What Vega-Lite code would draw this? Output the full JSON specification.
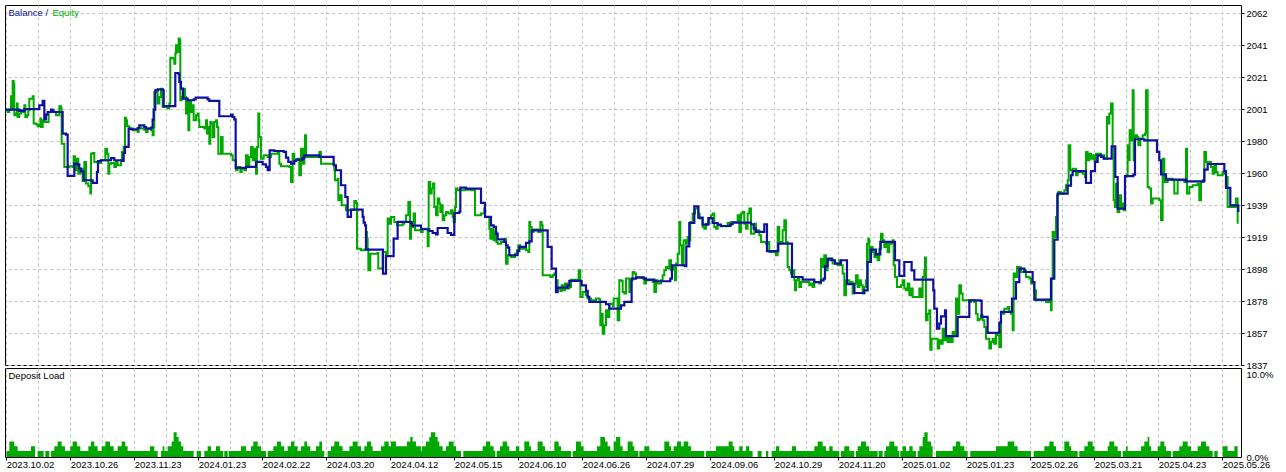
{
"$schema":"https://vega.github.io/schema/vega-lite/v6.json",
"padding":{"top":4,"left":4,"right":0,"bottom":0},
"background":"white",
"spacing":3,
"bounds":"flush",
"config":{
 "view":{"stroke":"#000","strokeWidth":1},
 "font":"Liberation Sans",
 "axis":{"labelFont":"Liberation Sans","labelFontSize":9.5,"labelColor":"#000","gridColor":"#c4c4c4","gridDash":[3,3],"gridWidth":1,"tickColor":"#000","domain":false,"title":null,"labelOverlap":false,"labelBound":false,"labelFlush":false,"labelSeparation":0}
},
"resolve":{"scale":{"x":"independent","y":"independent","color":"independent"},"legend":{"color":"independent"}},
"datasets":{
"bal":[{"u":-0.2,"v":2000.1},{"u":4.07,"v":1999.3},{"u":5.63,"v":2000.5},{"u":10.32,"v":2002.9},{"u":11.37,"v":2005.7},{"u":11.89,"v":1993.9},{"u":12.41,"v":1996.9},{"u":12.93,"v":1998.6},{"u":13.97,"v":2000.1},{"u":14.49,"v":1998.6},{"u":17.61,"v":1984.8},{"u":18.66,"v":1984.2},{"u":19.18,"v":1957.8},{"u":21.26,"v":1965.6},{"u":22.09,"v":1965.2},{"u":22.82,"v":1962.4},{"u":23.34,"v":1960.7},{"u":24.18,"v":1955.0},{"u":26.99,"v":1953.3},{"u":28.34,"v":1960.3},{"u":28.66,"v":1967.3},{"u":29.59,"v":1967.8},{"u":32.72,"v":1969.2},{"u":33.76,"v":1967.8},{"u":36.37,"v":1967.3},{"u":36.68,"v":1972.4},{"u":37.09,"v":1976.3},{"u":38.24,"v":1988.0},{"u":38.97,"v":1987.6},{"u":41.05,"v":1988.4},{"u":41.57,"v":1990.1},{"u":43.13,"v":1989.0},{"u":43.66,"v":1988.0},{"u":45.22,"v":1988.6},{"u":45.74,"v":1993.7},{"u":46.05,"v":2000.1},{"u":46.57,"v":2012.5},{"u":47.3,"v":2013.1},{"u":48.86,"v":2012.5},{"u":49.18,"v":2002.3},{"u":52.82,"v":2023.5},{"u":53.86,"v":2022.7},{"u":54.07,"v":2017.8},{"u":54.59,"v":2013.5},{"u":55.22,"v":2007.1},{"u":56.68,"v":2006.1},{"u":58.55,"v":2006.7},{"u":59.18,"v":2007.8},{"u":62.93,"v":2006.7},{"u":63.45,"v":2005.7},{"u":66.57,"v":1995.9},{"u":70.22,"v":1996.9},{"u":70.74,"v":1995.4},{"u":71.26,"v":1993.9},{"u":71.68,"v":1962.9},{"u":74.91,"v":1963.5},{"u":78.03,"v":1966.7},{"u":80.11,"v":1965.2},{"u":81.16,"v":1963.5},{"u":81.68,"v":1961.4},{"u":82.3,"v":1974.1},{"u":83.76,"v":1973.7},{"u":86.68,"v":1973.1},{"u":87.41,"v":1969.5},{"u":88.13,"v":1966.7},{"u":88.97,"v":1965.6},{"u":90.01,"v":1967.3},{"u":90.53,"v":1968.2},{"u":92.61,"v":1969.2},{"u":93.13,"v":1970.9},{"u":97.82,"v":1969.9},{"u":102.3,"v":1964.6},{"u":103.03,"v":1961.4},{"u":104.6,"v":1951.8},{"u":105.95,"v":1944.3},{"u":106.68,"v":1931.6},{"u":107.72,"v":1936.2},{"u":111.37,"v":1931.6},{"u":111.68,"v":1927.9},{"u":112.1,"v":1926.2},{"u":112.41,"v":1910.7},{"u":117.72,"v":1895.4},{"u":118.66,"v":1906.6},{"u":121.05,"v":1917.7},{"u":122.3,"v":1928.4},{"u":126.47,"v":1927.7},{"u":126.78,"v":1926.0},{"u":129.6,"v":1923.7},{"u":132.2,"v":1922.6},{"u":133.24,"v":1921.3},{"u":134.28,"v":1920.5},{"u":134.8,"v":1924.5},{"u":137.93,"v":1921.3},{"u":138.97,"v":1920.1},{"u":140.01,"v":1934.1},{"u":141.57,"v":1935.0},{"u":141.89,"v":1950.3},{"u":143.66,"v":1949.7},{"u":148.35,"v":1940.5},{"u":149.6,"v":1931.6},{"u":151.47,"v":1926.2},{"u":152.3,"v":1925.2},{"u":153.03,"v":1920.9},{"u":153.55,"v":1917.3},{"u":155.64,"v":1915.6},{"u":156.16,"v":1913.5},{"u":156.68,"v":1912.0},{"u":157.2,"v":1907.1},{"u":159.8,"v":1909.8},{"u":160.32,"v":1912.4},{"u":162.41,"v":1915.0},{"u":163.45,"v":1916.0},{"u":164.18,"v":1923.0},{"u":169.18,"v":1912.4},{"u":170.43,"v":1898.6},{"u":171.78,"v":1883.6},{"u":172.3,"v":1886.4},{"u":175.43,"v":1887.9},{"u":175.95,"v":1890.7},{"u":179.8,"v":1887.9},{"u":181.16,"v":1884.3},{"u":181.68,"v":1880.5},{"u":182.2,"v":1877.3},{"u":187.41,"v":1875.8},{"u":188.45,"v":1873.0},{"u":192.1,"v":1875.1},{"u":193.14,"v":1877.3},{"u":195.42,"v":1892.2},{"u":196.78,"v":1892.8},{"u":199.38,"v":1892.2},{"u":199.9,"v":1891.5},{"u":202.51,"v":1890.5},{"u":207.51,"v":1892.2},{"u":208.03,"v":1900.7},{"u":212.09,"v":1900.1},{"u":212.51,"v":1912.8},{"u":213.44,"v":1927.7},{"u":215.01,"v":1938.4},{"u":216.26,"v":1931.1},{"u":217.61,"v":1926.7},{"u":219.38,"v":1930.9},{"u":220.74,"v":1927.7},{"u":222.3,"v":1926.7},{"u":223.34,"v":1925.8},{"u":226.26,"v":1926.9},{"u":226.99,"v":1927.9},{"u":232.72,"v":1926.9},{"u":233.55,"v":1924.1},{"u":234.28,"v":1922.0},{"u":236.88,"v":1926.9},{"u":237.72,"v":1909.8},{"u":241.26,"v":1914.5},{"u":245.53,"v":1893.2},{"u":248.86,"v":1891.5},{"u":252.51,"v":1890.0},{"u":254.59,"v":1891.1},{"u":255.42,"v":1892.2},{"u":255.84,"v":1900.1},{"u":256.67,"v":1904.9},{"u":257.92,"v":1903.9},{"u":258.97,"v":1901.8},{"u":260.84,"v":1903.9},{"u":262.72,"v":1888.6},{"u":265.01,"v":1883.0},{"u":268.13,"v":1884.7},{"u":269.17,"v":1902.8},{"u":270.22,"v":1910.7},{"u":271.78,"v":1907.7},{"u":273.13,"v":1915.6},{"u":277.72,"v":1903.9},{"u":279.07,"v":1893.9},{"u":280.63,"v":1902.8},{"u":282.92,"v":1897.5},{"u":283.76,"v":1891.5},{"u":289.69,"v":1884.7},{"u":290.01,"v":1873.0},{"u":290.84,"v":1860.2},{"u":291.57,"v":1863.4},{"u":292.1,"v":1868.1},{"u":293.35,"v":1871.9},{"u":293.66,"v":1855.5},{"u":297.3,"v":1867.7},{"u":300.95,"v":1878.3},{"u":304.39,"v":1877.9},{"u":304.8,"v":1867.7},{"u":306.68,"v":1857.5},{"u":310.32,"v":1864.1},{"u":310.85,"v":1870.9},{"u":314.28,"v":1879.4},{"u":315.53,"v":1890.0},{"u":316.57,"v":1898.6},{"u":318.14,"v":1896.4},{"u":320.74,"v":1890.0},{"u":321.26,"v":1878.8},{"u":326.47,"v":1892.2},{"u":327.51,"v":1917.1},{"u":328.55,"v":1946.5},{"u":331.68,"v":1951.6},{"u":332.72,"v":1958.2},{"u":333.24,"v":1960.9},{"u":337.41,"v":1953.3},{"u":338.97,"v":1960.9},{"u":340.22,"v":1966.7},{"u":341.05,"v":1970.9},{"u":342.1,"v":1969.9},{"u":342.93,"v":1968.8},{"u":345.43,"v":1976.7},{"u":346.57,"v":1957.1},{"u":347.3,"v":1936.9},{"u":349.6,"v":1957.7},{"u":352.2,"v":1958.6},{"u":352.72,"v":1981.2},{"u":355.64,"v":1980.5},{"u":359.6,"v":1973.1},{"u":360.32,"v":1967.8},{"u":360.85,"v":1958.8},{"u":362.41,"v":1955.4},{"u":368.66,"v":1954.3},{"u":374.39,"v":1961.8},{"u":375.43,"v":1965.4},{"u":380.64,"v":1960.9},{"u":381.16,"v":1950.1},{"u":382.51,"v":1939.0},{"u":385.01,"v":1934.8}],
"eq":[{"u":-0.2,"v":1999.7},{"u":0.43,"v":1998.6},{"u":0.95,"v":2000.1},{"u":1.47,"v":2008.6},{"u":1.68,"v":2000.8},{"u":1.99,"v":2018.4},{"u":2.3,"v":2016.7},{"u":2.51,"v":1996.5},{"u":3.03,"v":1997.6},{"u":3.34,"v":2004.0},{"u":3.55,"v":1995.4},{"u":4.07,"v":1997.6},{"u":4.59,"v":1999.7},{"u":5.11,"v":1998.6},{"u":5.64,"v":2002.9},{"u":5.95,"v":1995.4},{"u":6.47,"v":1996.5},{"u":6.89,"v":1999.7},{"u":7.2,"v":2007.1},{"u":8.24,"v":2008.6},{"u":8.55,"v":1991.2},{"u":9.28,"v":1990.8},{"u":9.8,"v":1989.5},{"u":10.32,"v":1990.1},{"u":10.64,"v":1994.4},{"u":10.84,"v":1989.0},{"u":11.37,"v":1993.3},{"u":11.89,"v":1992.2},{"u":13.24,"v":1998.6},{"u":13.97,"v":1999.7},{"u":15.01,"v":1998.6},{"u":15.53,"v":1996.5},{"u":16.57,"v":2002.3},{"u":17.09,"v":2000.8},{"u":17.3,"v":1978.4},{"u":18.14,"v":1963.5},{"u":19.7,"v":1963.9},{"u":20.74,"v":1963.5},{"u":21.05,"v":1970.3},{"u":21.47,"v":1961.4},{"u":22.09,"v":1968.8},{"u":22.51,"v":1959.2},{"u":23.14,"v":1962.4},{"u":23.86,"v":1954.6},{"u":24.39,"v":1966.7},{"u":24.91,"v":1952.9},{"u":25.64,"v":1951.2},{"u":26.26,"v":1946.5},{"u":26.47,"v":1972.0},{"u":26.99,"v":1972.4},{"u":27.51,"v":1966.7},{"u":28.55,"v":1966.1},{"u":29.59,"v":1967.8},{"u":30.95,"v":1975.2},{"u":31.47,"v":1972.0},{"u":31.89,"v":1959.2},{"u":32.2,"v":1965.6},{"u":32.72,"v":1966.1},{"u":33.76,"v":1963.5},{"u":34.28,"v":1966.7},{"u":34.8,"v":1964.6},{"u":35.84,"v":1967.8},{"u":36.16,"v":1973.1},{"u":36.68,"v":1976.3},{"u":37.09,"v":1995.0},{"u":37.41,"v":1993.3},{"u":37.72,"v":1989.5},{"u":38.45,"v":1988.0},{"u":39.49,"v":1986.9},{"u":41.05,"v":1985.9},{"u":41.37,"v":1988.6},{"u":42.09,"v":1988.0},{"u":43.13,"v":1987.3},{"u":43.66,"v":1985.9},{"u":44.18,"v":1988.0},{"u":45.22,"v":1986.9},{"u":45.74,"v":1983.7},{"u":46.05,"v":1989.0},{"u":46.26,"v":2011.4},{"u":46.78,"v":2012.5},{"u":47.3,"v":2004.0},{"u":47.82,"v":2008.2},{"u":48.34,"v":2013.5},{"u":48.86,"v":2001.8},{"u":50.43,"v":2000.8},{"u":50.95,"v":2004.0},{"u":51.26,"v":2033.3},{"u":51.99,"v":2032.7},{"u":52.51,"v":2029.5},{"u":52.82,"v":2035.9},{"u":53.03,"v":2041.2},{"u":53.55,"v":2037.0},{"u":53.86,"v":2045.5},{"u":54.18,"v":2044.4},{"u":54.39,"v":2006.1},{"u":54.8,"v":2008.2},{"u":55.43,"v":2013.5},{"u":55.84,"v":2008.2},{"u":56.16,"v":1997.6},{"u":56.47,"v":2006.1},{"u":56.89,"v":1986.9},{"u":57.2,"v":2005.0},{"u":57.72,"v":1998.6},{"u":58.24,"v":2002.9},{"u":58.55,"v":1993.3},{"u":59.28,"v":1996.5},{"u":59.8,"v":1997.6},{"u":60.11,"v":1993.3},{"u":60.32,"v":1989.0},{"u":61.89,"v":1988.0},{"u":62.41,"v":1993.3},{"u":62.72,"v":1984.8},{"u":62.93,"v":1989.0},{"u":63.45,"v":1978.4},{"u":63.76,"v":1992.2},{"u":64.18,"v":1991.2},{"u":64.49,"v":1982.7},{"u":65.01,"v":1992.2},{"u":65.53,"v":1993.3},{"u":65.84,"v":1989.0},{"u":66.26,"v":1972.0},{"u":67.09,"v":1982.7},{"u":67.61,"v":1972.0},{"u":70.22,"v":1970.9},{"u":70.74,"v":1967.8},{"u":71.78,"v":1961.4},{"u":72.3,"v":1963.5},{"u":73.14,"v":1960.3},{"u":73.55,"v":1962.4},{"u":74.39,"v":1961.4},{"u":74.91,"v":1970.9},{"u":75.43,"v":1963.5},{"u":75.95,"v":1969.9},{"u":76.47,"v":1976.3},{"u":76.99,"v":1967.8},{"u":77.51,"v":1975.2},{"u":78.03,"v":1959.2},{"u":78.34,"v":1976.3},{"u":78.76,"v":1997.6},{"u":79.07,"v":1982.7},{"u":79.59,"v":1968.8},{"u":80.43,"v":1970.9},{"u":81.68,"v":1969.9},{"u":82.72,"v":1972.0},{"u":84.8,"v":1973.1},{"u":85.32,"v":1965.6},{"u":85.84,"v":1963.9},{"u":88.45,"v":1963.5},{"u":88.97,"v":1953.9},{"u":89.49,"v":1972.0},{"u":90.01,"v":1967.8},{"u":91.05,"v":1968.8},{"u":91.57,"v":1958.2},{"u":92.09,"v":1975.2},{"u":92.61,"v":1965.6},{"u":93.14,"v":1975.2},{"u":93.34,"v":1983.7},{"u":93.66,"v":1969.9},{"u":97.3,"v":1969.9},{"u":97.82,"v":1973.1},{"u":98.34,"v":1965.6},{"u":102.51,"v":1961.4},{"u":102.72,"v":1955.0},{"u":103.55,"v":1956.0},{"u":103.76,"v":1942.2},{"u":104.39,"v":1945.4},{"u":104.8,"v":1939.0},{"u":106.16,"v":1935.8},{"u":107.51,"v":1936.2},{"u":108.76,"v":1941.8},{"u":109.28,"v":1940.5},{"u":109.6,"v":1911.3},{"u":110.85,"v":1910.3},{"u":111.89,"v":1910.7},{"u":112.41,"v":1922.0},{"u":112.72,"v":1917.7},{"u":112.93,"v":1911.3},{"u":113.14,"v":1897.5},{"u":113.76,"v":1908.1},{"u":116.05,"v":1908.6},{"u":116.26,"v":1898.6},{"u":117.3,"v":1898.6},{"u":117.62,"v":1909.2},{"u":118.66,"v":1907.1},{"u":119.18,"v":1930.5},{"u":119.7,"v":1927.3},{"u":120.22,"v":1931.6},{"u":121.26,"v":1928.4},{"u":122.1,"v":1926.2},{"u":123.87,"v":1927.3},{"u":124.39,"v":1928.4},{"u":124.91,"v":1932.6},{"u":125.64,"v":1941.1},{"u":126.16,"v":1917.7},{"u":126.47,"v":1928.4},{"u":126.99,"v":1925.2},{"u":127.3,"v":1933.7},{"u":127.72,"v":1923.0},{"u":129.6,"v":1922.0},{"u":130.12,"v":1924.1},{"u":131.16,"v":1924.1},{"u":131.68,"v":1912.8},{"u":131.99,"v":1953.9},{"u":132.51,"v":1946.5},{"u":132.93,"v":1949.7},{"u":133.35,"v":1952.9},{"u":133.76,"v":1937.9},{"u":134.28,"v":1932.6},{"u":134.8,"v":1943.3},{"u":135.32,"v":1940.1},{"u":135.64,"v":1934.8},{"u":136.05,"v":1939.0},{"u":136.37,"v":1929.4},{"u":136.89,"v":1932.6},{"u":137.41,"v":1934.8},{"u":138.14,"v":1933.7},{"u":138.97,"v":1935.8},{"u":139.49,"v":1931.6},{"u":139.8,"v":1928.4},{"u":140.22,"v":1937.9},{"u":140.53,"v":1949.7},{"u":141.05,"v":1948.6},{"u":143.14,"v":1949.0},{"u":145.22,"v":1948.6},{"u":146.26,"v":1949.0},{"u":146.47,"v":1932.6},{"u":148.35,"v":1933.7},{"u":149.39,"v":1936.9},{"u":149.6,"v":1931.6},{"u":150.95,"v":1924.1},{"u":151.26,"v":1917.7},{"u":151.68,"v":1924.1},{"u":152.3,"v":1916.7},{"u":152.72,"v":1922.0},{"u":153.14,"v":1915.6},{"u":153.55,"v":1914.5},{"u":154.6,"v":1915.6},{"u":155.84,"v":1917.7},{"u":156.16,"v":1901.7},{"u":156.68,"v":1907.1},{"u":157.72,"v":1906.0},{"u":158.97,"v":1908.1},{"u":159.59,"v":1910.3},{"u":160.01,"v":1913.5},{"u":160.64,"v":1911.3},{"u":161.89,"v":1912.4},{"u":162.41,"v":1910.3},{"u":163.14,"v":1909.2},{"u":163.45,"v":1928.4},{"u":163.76,"v":1925.2},{"u":164.18,"v":1922.0},{"u":164.8,"v":1923.5},{"u":166.26,"v":1922.0},{"u":166.89,"v":1928.4},{"u":167.3,"v":1926.2},{"u":167.62,"v":1894.3},{"u":170.01,"v":1893.2},{"u":170.74,"v":1894.3},{"u":171.26,"v":1895.4},{"u":171.78,"v":1891.1},{"u":172.3,"v":1885.8},{"u":173.14,"v":1884.3},{"u":173.55,"v":1887.9},{"u":174.18,"v":1884.7},{"u":174.6,"v":1889.0},{"u":175.22,"v":1885.8},{"u":175.95,"v":1886.8},{"u":176.47,"v":1891.5},{"u":178.55,"v":1890.7},{"u":178.86,"v":1897.5},{"u":179.39,"v":1880.5},{"u":180.12,"v":1883.7},{"u":181.16,"v":1881.5},{"u":181.68,"v":1879.4},{"u":182.72,"v":1878.3},{"u":184.28,"v":1879.4},{"u":185.32,"v":1878.8},{"u":185.64,"v":1862.4},{"u":186.05,"v":1869.8},{"u":186.37,"v":1857.0},{"u":186.89,"v":1862.4},{"u":187.41,"v":1871.9},{"u":187.93,"v":1867.7},{"u":188.45,"v":1876.2},{"u":189.49,"v":1874.5},{"u":189.8,"v":1879.4},{"u":191.05,"v":1865.6},{"u":191.57,"v":1891.1},{"u":192.3,"v":1890.7},{"u":192.62,"v":1883.7},{"u":193.14,"v":1882.6},{"u":193.66,"v":1892.2},{"u":194.7,"v":1883.7},{"u":195.22,"v":1891.1},{"u":195.74,"v":1896.4},{"u":196.26,"v":1895.4},{"u":196.78,"v":1893.2},{"u":198.86,"v":1892.2},{"u":199.38,"v":1889.0},{"u":199.9,"v":1891.1},{"u":201.99,"v":1890.0},{"u":202.51,"v":1883.7},{"u":203.03,"v":1891.1},{"u":203.55,"v":1889.0},{"u":204.59,"v":1891.1},{"u":205.11,"v":1894.3},{"u":205.63,"v":1897.5},{"u":206.15,"v":1899.6},{"u":206.67,"v":1898.6},{"u":207.19,"v":1903.9},{"u":207.72,"v":1897.5},{"u":208.24,"v":1899.6},{"u":208.76,"v":1898.6},{"u":208.97,"v":1891.1},{"u":209.28,"v":1901.8},{"u":209.8,"v":1908.1},{"u":210.32,"v":1928.4},{"u":210.63,"v":1913.5},{"u":211.15,"v":1900.7},{"u":211.67,"v":1916.7},{"u":212.4,"v":1914.5},{"u":212.92,"v":1918.8},{"u":213.44,"v":1916.7},{"u":213.76,"v":1928.4},{"u":214.49,"v":1933.7},{"u":215.22,"v":1936.9},{"u":215.84,"v":1938.0},{"u":216.26,"v":1933.7},{"u":216.67,"v":1930.5},{"u":217.61,"v":1925.2},{"u":218.13,"v":1924.1},{"u":218.65,"v":1927.3},{"u":219.69,"v":1930.5},{"u":220.22,"v":1932.6},{"u":220.74,"v":1933.7},{"u":221.26,"v":1925.2},{"u":221.78,"v":1924.1},{"u":222.3,"v":1926.2},{"u":223.34,"v":1925.6},{"u":225.42,"v":1927.7},{"u":225.94,"v":1926.2},{"u":226.47,"v":1928.4},{"u":228.55,"v":1932.6},{"u":229.07,"v":1922.0},{"u":229.59,"v":1933.7},{"u":230.11,"v":1934.8},{"u":230.63,"v":1927.3},{"u":231.15,"v":1924.1},{"u":231.67,"v":1933.7},{"u":232.2,"v":1936.9},{"u":232.72,"v":1920.9},{"u":233.76,"v":1927.3},{"u":234.28,"v":1923.0},{"u":235.32,"v":1919.9},{"u":235.84,"v":1915.6},{"u":237.4,"v":1914.5},{"u":237.92,"v":1915.6},{"u":238.44,"v":1909.2},{"u":240.53,"v":1907.1},{"u":241.05,"v":1925.2},{"u":241.57,"v":1915.6},{"u":242.61,"v":1923.0},{"u":243.13,"v":1929.4},{"u":243.65,"v":1915.6},{"u":244.17,"v":1899.6},{"u":244.69,"v":1897.5},{"u":245.22,"v":1895.4},{"u":245.74,"v":1897.5},{"u":246.26,"v":1891.1},{"u":246.47,"v":1884.7},{"u":246.78,"v":1891.1},{"u":247.3,"v":1893.2},{"u":247.82,"v":1886.9},{"u":248.34,"v":1890.0},{"u":250.94,"v":1887.9},{"u":251.47,"v":1889.0},{"u":251.99,"v":1886.9},{"u":252.51,"v":1890.0},{"u":254.07,"v":1889.0},{"u":254.59,"v":1904.9},{"u":255.11,"v":1899.6},{"u":255.63,"v":1907.1},{"u":256.15,"v":1897.5},{"u":256.67,"v":1903.9},{"u":257.72,"v":1904.9},{"u":258.24,"v":1901.8},{"u":259.8,"v":1900.7},{"u":260.32,"v":1903.9},{"u":260.84,"v":1900.7},{"u":261.36,"v":1895.4},{"u":261.88,"v":1881.5},{"u":262.4,"v":1891.1},{"u":263.44,"v":1889.0},{"u":263.97,"v":1890.0},{"u":264.49,"v":1882.6},{"u":265.01,"v":1889.0},{"u":265.53,"v":1894.3},{"u":266.05,"v":1886.9},{"u":266.57,"v":1891.1},{"u":267.09,"v":1887.9},{"u":267.61,"v":1882.6},{"u":268.13,"v":1886.9},{"u":268.65,"v":1891.1},{"u":268.97,"v":1914.5},{"u":269.38,"v":1917.7},{"u":269.69,"v":1903.9},{"u":270.22,"v":1912.4},{"u":270.74,"v":1909.2},{"u":271.26,"v":1906.0},{"u":271.78,"v":1908.1},{"u":272.3,"v":1903.9},{"u":272.82,"v":1911.3},{"u":273.34,"v":1920.9},{"u":273.86,"v":1916.7},{"u":274.38,"v":1912.4},{"u":274.9,"v":1915.6},{"u":275.42,"v":1909.2},{"u":275.94,"v":1915.6},{"u":276.47,"v":1914.5},{"u":276.99,"v":1916.7},{"u":277.3,"v":1900.7},{"u":277.72,"v":1893.2},{"u":278.34,"v":1886.9},{"u":279.59,"v":1887.9},{"u":280.11,"v":1891.1},{"u":280.63,"v":1885.8},{"u":281.15,"v":1884.7},{"u":281.67,"v":1889.0},{"u":282.2,"v":1881.5},{"u":282.72,"v":1885.8},{"u":283.24,"v":1880.5},{"u":285.32,"v":1885.8},{"u":285.84,"v":1880.5},{"u":286.36,"v":1893.2},{"u":286.88,"v":1897.5},{"u":287.09,"v":1905.6},{"u":287.4,"v":1865.6},{"u":287.92,"v":1869.8},{"u":288.44,"v":1871.9},{"u":288.76,"v":1846.8},{"u":289.17,"v":1853.8},{"u":290.53,"v":1853.8},{"u":291.05,"v":1847.5},{"u":291.57,"v":1852.8},{"u":292.1,"v":1850.6},{"u":292.62,"v":1860.2},{"u":293.14,"v":1852.8},{"u":293.66,"v":1854.9},{"u":294.18,"v":1851.7},{"u":294.7,"v":1854.9},{"u":295.22,"v":1851.7},{"u":295.74,"v":1858.1},{"u":296.26,"v":1856.0},{"u":296.78,"v":1879.4},{"u":297.3,"v":1869.8},{"u":297.82,"v":1887.9},{"u":298.34,"v":1882.6},{"u":298.87,"v":1878.3},{"u":300.95,"v":1877.3},{"u":301.47,"v":1878.3},{"u":302.51,"v":1877.3},{"u":303.03,"v":1869.8},{"u":303.55,"v":1865.6},{"u":304.07,"v":1866.6},{"u":304.6,"v":1868.7},{"u":305.12,"v":1865.6},{"u":305.64,"v":1861.3},{"u":306.16,"v":1853.8},{"u":307.2,"v":1847.5},{"u":307.72,"v":1851.7},{"u":308.24,"v":1853.8},{"u":308.76,"v":1850.6},{"u":309.28,"v":1857.0},{"u":309.8,"v":1856.0},{"u":310.32,"v":1848.5},{"u":310.85,"v":1870.9},{"u":311.37,"v":1869.8},{"u":311.89,"v":1873.0},{"u":312.93,"v":1874.1},{"u":313.45,"v":1870.9},{"u":313.97,"v":1869.8},{"u":314.49,"v":1859.2},{"u":314.8,"v":1895.4},{"u":315.22,"v":1893.2},{"u":315.85,"v":1899.6},{"u":316.57,"v":1899.2},{"u":317.1,"v":1896.4},{"u":318.14,"v":1897.5},{"u":318.66,"v":1893.2},{"u":319.7,"v":1892.2},{"u":320.22,"v":1889.0},{"u":320.74,"v":1890.0},{"u":321.26,"v":1884.7},{"u":321.78,"v":1878.3},{"u":324.91,"v":1877.3},{"u":325.95,"v":1878.3},{"u":326.47,"v":1871.9},{"u":326.68,"v":1892.2},{"u":326.99,"v":1922.0},{"u":327.51,"v":1918.8},{"u":328.03,"v":1931.6},{"u":328.35,"v":1945.4},{"u":328.76,"v":1947.5},{"u":329.6,"v":1946.5},{"u":330.64,"v":1948.6},{"u":331.16,"v":1951.8},{"u":331.68,"v":1955.0},{"u":331.99,"v":1977.3},{"u":332.51,"v":1961.4},{"u":333.24,"v":1962.4},{"u":334.28,"v":1958.2},{"u":334.8,"v":1960.3},{"u":336.37,"v":1959.2},{"u":337.1,"v":1957.1},{"u":337.41,"v":1973.1},{"u":337.93,"v":1967.8},{"u":338.45,"v":1972.0},{"u":338.97,"v":1968.8},{"u":339.49,"v":1970.9},{"u":340.01,"v":1967.8},{"u":340.53,"v":1972.0},{"u":342.1,"v":1970.9},{"u":343.14,"v":1968.8},{"u":343.97,"v":1995.4},{"u":344.39,"v":1991.2},{"u":344.7,"v":1997.6},{"u":345.22,"v":2004.0},{"u":345.74,"v":1976.3},{"u":346.05,"v":1942.2},{"u":346.47,"v":1937.9},{"u":346.78,"v":1952.8},{"u":347.3,"v":1934.8},{"u":347.82,"v":1945.4},{"u":348.35,"v":1937.9},{"u":348.87,"v":1940.1},{"u":349.18,"v":1935.8},{"u":349.6,"v":1957.1},{"u":350.01,"v":1958.2},{"u":350.43,"v":1977.3},{"u":350.74,"v":1967.8},{"u":351.05,"v":1986.9},{"u":351.47,"v":1980.5},{"u":351.99,"v":2012.5},{"u":352.3,"v":1967.8},{"u":352.72,"v":1983.7},{"u":353.35,"v":1982.7},{"u":353.76,"v":1977.3},{"u":354.39,"v":1981.6},{"u":355.12,"v":1983.7},{"u":355.85,"v":1984.8},{"u":356.16,"v":2012.5},{"u":356.68,"v":1950.7},{"u":357.2,"v":1949.7},{"u":357.72,"v":1940.1},{"u":358.24,"v":1943.3},{"u":360.32,"v":1942.2},{"u":360.85,"v":1929.4},{"u":361.37,"v":1968.8},{"u":361.89,"v":1953.9},{"u":362.93,"v":1956.0},{"u":364.49,"v":1955.0},{"u":365.01,"v":1946.5},{"u":366.05,"v":1955.0},{"u":368.14,"v":1953.9},{"u":368.66,"v":1975.2},{"u":368.97,"v":1946.5},{"u":369.7,"v":1950.7},{"u":370.74,"v":1951.8},{"u":372.3,"v":1952.8},{"u":372.82,"v":1942.2},{"u":373.35,"v":1953.9},{"u":373.87,"v":1955.0},{"u":374.39,"v":1973.1},{"u":374.91,"v":1966.7},{"u":376.47,"v":1963.5},{"u":376.99,"v":1959.2},{"u":377.51,"v":1964.6},{"u":378.03,"v":1960.3},{"u":378.55,"v":1958.2},{"u":380.12,"v":1960.3},{"u":380.64,"v":1959.2},{"u":381.16,"v":1957.1},{"u":381.68,"v":1937.9},{"u":383.24,"v":1939.0},{"u":383.76,"v":1937.9},{"u":384.28,"v":1943.3},{"u":384.8,"v":1927.3}],
"dl":[{"u":0.07,"d":0.74},{"u":0.95,"d":1.87},{"u":2.51,"d":1.3},{"u":3.55,"d":0.74},{"u":7.72,"d":1.3},{"u":8.97,"d":0},{"u":9.8,"d":0.74},{"u":11.68,"d":0},{"u":12.2,"d":0.74},{"u":13.45,"d":0},{"u":13.97,"d":0.74},{"u":15.01,"d":1.3},{"u":16.05,"d":1.87},{"u":17.3,"d":1.3},{"u":18.34,"d":0.74},{"u":20.01,"d":1.3},{"u":20.74,"d":1.87},{"u":22.09,"d":1.3},{"u":23.14,"d":0.74},{"u":25.64,"d":1.3},{"u":26.47,"d":1.87},{"u":27.51,"d":1.3},{"u":28.55,"d":0.74},{"u":29.8,"d":1.3},{"u":30.95,"d":1.87},{"u":32.41,"d":1.3},{"u":33.55,"d":0.74},{"u":34.8,"d":1.3},{"u":36.05,"d":1.87},{"u":37.2,"d":1.3},{"u":37.93,"d":0.74},{"u":44.91,"d":1.3},{"u":46.26,"d":0.74},{"u":47.3,"d":0},{"u":48.34,"d":0.74},{"u":48.86,"d":1.3},{"u":49.39,"d":0.74},{"u":50.43,"d":1.3},{"u":51.68,"d":1.87},{"u":52.3,"d":3.0},{"u":53.24,"d":2.43},{"u":53.86,"d":1.87},{"u":54.59,"d":1.3},{"u":55.32,"d":0.74},{"u":58.55,"d":0},{"u":59.49,"d":0.74},{"u":60.84,"d":0},{"u":61.89,"d":0.74},{"u":62.93,"d":1.3},{"u":63.97,"d":0.74},{"u":65.53,"d":1.3},{"u":66.78,"d":0.74},{"u":67.82,"d":0},{"u":68.14,"d":0.74},{"u":69.18,"d":0},{"u":69.49,"d":0.74},{"u":73.34,"d":1.3},{"u":74.91,"d":0.74},{"u":76.47,"d":1.3},{"u":77.2,"d":1.87},{"u":78.55,"d":1.3},{"u":79.59,"d":0.74},{"u":81.16,"d":0},{"u":81.68,"d":0.74},{"u":83.45,"d":1.3},{"u":84.59,"d":1.87},{"u":85.84,"d":1.3},{"u":86.88,"d":0.74},{"u":87.93,"d":1.3},{"u":88.97,"d":1.87},{"u":90.01,"d":1.3},{"u":91.05,"d":0.74},{"u":92.09,"d":1.3},{"u":93.14,"d":1.87},{"u":93.97,"d":1.3},{"u":95.01,"d":0.74},{"u":96.78,"d":1.3},{"u":97.82,"d":1.87},{"u":98.66,"d":0.74},{"u":99.39,"d":0},{"u":100.43,"d":0.74},{"u":101.47,"d":1.3},{"u":102.51,"d":1.87},{"u":104.07,"d":1.3},{"u":105.11,"d":0.74},{"u":107.2,"d":1.3},{"u":108.24,"d":1.87},{"u":109.8,"d":1.3},{"u":110.84,"d":0.74},{"u":111.88,"d":1.3},{"u":112.72,"d":1.87},{"u":113.97,"d":1.3},{"u":114.49,"d":0.74},{"u":117.09,"d":1.3},{"u":118.14,"d":1.87},{"u":119.49,"d":1.3},{"u":120.22,"d":1.87},{"u":121.78,"d":1.3},{"u":125.22,"d":1.87},{"u":126.26,"d":2.43},{"u":126.99,"d":1.87},{"u":128.03,"d":1.3},{"u":129.59,"d":0.74},{"u":129.9,"d":1.3},{"u":131.15,"d":1.87},{"u":132.19,"d":2.43},{"u":132.72,"d":3.0},{"u":134.07,"d":2.43},{"u":134.8,"d":1.87},{"u":135.32,"d":1.3},{"u":136.36,"d":0.74},{"u":137.4,"d":1.3},{"u":138.24,"d":1.87},{"u":139.8,"d":1.3},{"u":140.53,"d":0.74},{"u":142.09,"d":0},{"u":142.82,"d":0.74},{"u":148.86,"d":1.3},{"u":149.9,"d":1.87},{"u":151.26,"d":1.3},{"u":152.3,"d":0.74},{"u":152.82,"d":0},{"u":153.24,"d":0.74},{"u":154.28,"d":1.3},{"u":155.11,"d":1.87},{"u":156.47,"d":1.3},{"u":157.2,"d":0.74},{"u":159.28,"d":1.3},{"u":160.32,"d":0.74},{"u":161.88,"d":1.87},{"u":163.44,"d":1.3},{"u":163.97,"d":0.74},{"u":166.05,"d":1.87},{"u":167.61,"d":1.3},{"u":168.34,"d":0.74},{"u":171.26,"d":1.87},{"u":172.61,"d":1.3},{"u":173.34,"d":0.74},{"u":176.46,"d":0},{"u":176.99,"d":0.74},{"u":178.03,"d":1.87},{"u":179.59,"d":1.3},{"u":180.42,"d":0.74},{"u":184.59,"d":1.3},{"u":185.63,"d":2.43},{"u":187.09,"d":1.87},{"u":187.92,"d":1.3},{"u":188.76,"d":0.74},{"u":189.8,"d":1.87},{"u":190.53,"d":2.43},{"u":191.88,"d":1.3},{"u":192.61,"d":0.74},{"u":194.17,"d":1.87},{"u":195.74,"d":1.3},{"u":196.26,"d":0.74},{"u":197.51,"d":0},{"u":197.82,"d":0.74},{"u":199.38,"d":1.3},{"u":200.94,"d":0.74},{"u":205.63,"d":1.87},{"u":207.19,"d":1.3},{"u":207.72,"d":0.74},{"u":208.55,"d":1.3},{"u":209.59,"d":1.87},{"u":210.84,"d":1.3},{"u":211.67,"d":1.87},{"u":213.13,"d":1.3},{"u":213.97,"d":0.74},{"u":218.13,"d":0},{"u":218.65,"d":0.74},{"u":221.78,"d":1.3},{"u":225.74,"d":1.87},{"u":226.99,"d":1.3},{"u":227.51,"d":0.74},{"u":229.07,"d":1.3},{"u":230.11,"d":0.74},{"u":231.15,"d":1.3},{"u":232.19,"d":0.74},{"u":233.23,"d":0},{"u":234.8,"d":0.74},{"u":236.05,"d":0},{"u":237.4,"d":0.74},{"u":238.13,"d":0},{"u":239.17,"d":0.74},{"u":240.53,"d":1.3},{"u":241.57,"d":0.74},{"u":245.53,"d":1.3},{"u":246.78,"d":0.74},{"u":252.51,"d":1.3},{"u":253.55,"d":1.87},{"u":255.11,"d":1.3},{"u":256.15,"d":0.74},{"u":257.19,"d":1.3},{"u":258.24,"d":0.74},{"u":260.32,"d":0},{"u":260.84,"d":0.74},{"u":261.88,"d":1.3},{"u":263.44,"d":0.74},{"u":265.01,"d":0},{"u":265.53,"d":0.74},{"u":266.05,"d":1.3},{"u":267.09,"d":1.87},{"u":268.66,"d":1.3},{"u":269.7,"d":0.74},{"u":272.3,"d":0},{"u":272.62,"d":0.74},{"u":273.87,"d":0},{"u":274.39,"d":0.74},{"u":274.91,"d":1.3},{"u":275.95,"d":1.87},{"u":277.51,"d":1.3},{"u":278.55,"d":0.74},{"u":279.07,"d":0},{"u":279.39,"d":0.74},{"u":280.12,"d":1.3},{"u":281.16,"d":0.74},{"u":282.2,"d":1.3},{"u":283.24,"d":0.74},{"u":284.28,"d":0},{"u":284.8,"d":0.74},{"u":285.32,"d":1.3},{"u":286.37,"d":2.43},{"u":286.89,"d":3.0},{"u":287.93,"d":1.87},{"u":288.97,"d":1.3},{"u":289.49,"d":0},{"u":290.53,"d":0.74},{"u":295.74,"d":1.3},{"u":296.78,"d":1.87},{"u":298.14,"d":1.3},{"u":299.39,"d":0.74},{"u":300.43,"d":0},{"u":301.26,"d":0.74},{"u":309.28,"d":1.3},{"u":312.93,"d":1.87},{"u":315.01,"d":1.3},{"u":316.05,"d":0.74},{"u":320.22,"d":0},{"u":321.05,"d":0.74},{"u":324.39,"d":1.3},{"u":325.95,"d":1.87},{"u":327.3,"d":1.3},{"u":328.03,"d":0.74},{"u":330.64,"d":1.87},{"u":332.2,"d":1.3},{"u":332.72,"d":0.74},{"u":334.8,"d":0},{"u":335.32,"d":0.74},{"u":336.89,"d":1.3},{"u":337.93,"d":1.87},{"u":339.49,"d":1.3},{"u":340.01,"d":0.74},{"u":344.18,"d":1.3},{"u":344.7,"d":1.87},{"u":346.26,"d":1.3},{"u":347.3,"d":0.74},{"u":348.35,"d":0},{"u":348.87,"d":0.74},{"u":349.91,"d":1.3},{"u":350.43,"d":0.74},{"u":354.6,"d":1.3},{"u":355.64,"d":1.87},{"u":356.68,"d":2.43},{"u":357.2,"d":1.3},{"u":357.72,"d":0.74},{"u":359.8,"d":1.3},{"u":360.64,"d":1.87},{"u":361.89,"d":1.3},{"u":362.41,"d":0.74},{"u":363.97,"d":0},{"u":364.49,"d":0.74},{"u":366.57,"d":1.3},{"u":367.61,"d":1.87},{"u":369.18,"d":1.3},{"u":370.22,"d":0.74},{"u":372.3,"d":1.3},{"u":373.35,"d":1.87},{"u":374.91,"d":1.3},{"u":375.95,"d":0.74},{"u":377.0,"d":0},{"u":377.51,"d":0.74},{"u":378.55,"d":0},{"u":380.12,"d":1.3},{"u":381.68,"d":0.74},{"u":383.76,"d":1.3},{"u":384.8,"d":0}]
},
"vconcat":[
{
 "width":1236,"height":360,
 "layer":[
  {"data":{"name":"eq"},
   "mark":{"type":"line","interpolate":"step-after","strokeWidth":2,"clip":true},
   "encoding":{
    "x":{"field":"u","type":"quantitative","scale":{"domain":[-0.4,385.85],"nice":false,"zero":false},"axis":{"values":[0,10,20,30,40,50,60,70,80,90,100,110,120,130,140,150,160,170,180,190,200,210,220,230,240,250,260,270,280,290,300,310,320,330,340,350,360,370,380],"labels":false,"ticks":false,"grid":true,"minExtent":0,"maxExtent":0}},
    "y":{"field":"v","type":"quantitative","scale":{"domain":[1837,2066.95],"nice":false,"zero":false},"axis":{"orient":"right","values":[1837,1857.44,1877.88,1898.32,1918.76,1939.2,1959.64,1980.08,2000.52,2020.96,2041.4,2061.84],"labelExpr":"format(datum.value, '.0f')","tickSize":3,"labelPadding":2,"grid":true,"labelOverlap":false,"labelBound":false,"labelSeparation":0}},
    "color":{"datum":"Equity","type":"nominal","scale":{"domain":["Balance","Equity"],"range":["#1010a0","#00a800"]},
     "legend":{"orient":"top-left","direction":"horizontal","title":null,"offset":3,"padding":0,"symbolSize":0.01,"symbolOpacity":0,"symbolStrokeWidth":0,"labelOffset":-9,"columnPadding":3,"labelFont":"Liberation Sans","labelFontSize":9.5,
      "labelExpr":"datum.label == 'Balance' ? 'Balance /' : datum.label",
      "encoding":{"labels":{"fill":{"condition":{"test":"datum.value == 'Balance'","value":"#1010a0"},"value":"#00a800"}}}}}
   }},
  {"data":{"name":"bal"},
   "mark":{"type":"line","interpolate":"step-after","strokeWidth":2.2,"clip":true},
   "encoding":{
    "x":{"field":"u","type":"quantitative","axis":{"values":[0,10,20,30,40,50,60,70,80,90,100,110,120,130,140,150,160,170,180,190,200,210,220,230,240,250,260,270,280,290,300,310,320,330,340,350,360,370,380],"labels":false,"ticks":false,"grid":true,"minExtent":0,"maxExtent":0}},
    "y":{"field":"v","type":"quantitative","axis":{"orient":"right","values":[1837,1857.44,1877.88,1898.32,1918.76,1939.2,1959.64,1980.08,2000.52,2020.96,2041.4,2061.84],"labelExpr":"format(datum.value, '.0f')","tickSize":3,"labelPadding":2,"grid":true,"labelOverlap":false,"labelBound":false,"labelSeparation":0}},
    "color":{"datum":"Balance","type":"nominal"}
   }}
 ]
},
{
 "width":1236,"height":89,
 "data":{"name":"dl"},
 "mark":{"type":"area","interpolate":"step-after","clip":true,"opacity":1},
 "encoding":{
  "x":{"field":"u","type":"quantitative","scale":{"domain":[-0.4,385.85],"nice":false,"zero":false},
   "axis":{"values":[0,10,20,30,40,50,60,70,80,90,100,110,120,130,140,150,160,170,180,190,200,210,220,230,240,250,260,270,280,290,300,310,320,330,340,350,360,370,380],
    "labelExpr":"datum.value % 20 == 0 ? ['2023.10.02','2023.10.26','2023.11.23','2024.01.23','2024.02.22','2024.03.20','2024.04.12','2024.05.15','2024.06.10','2024.06.26','2024.07.29','2024.09.06','2024.10.29','2024.11.20','2025.01.02','2025.01.23','2025.02.26','2025.03.21','2025.04.23','2025.05.26'][datum.value / 20] : ''",
    "labelAlign":"left","labelBaseline":"top","tickSize":3,"labelPadding":-1,"grid":true,"labelOverlap":false,
    "tickOpacity":{"condition":{"test":"datum.value % 20 != 0","value":0},"value":1}}},
  "y":{"field":"d","type":"quantitative","scale":{"domain":[0,10.8],"nice":false,"zero":true},"axis":{"orient":"right","values":[0,10],"labelExpr":"format(datum.value, '.1f') + '%'","ticks":false,"tickSize":0,"labelPadding":5,"grid":false,"labelOverlap":false,"labelBound":false}},
  "color":{"datum":"Deposit Load","type":"nominal","scale":{"domain":["Deposit Load"],"range":["#00a800"]},
   "legend":{"orient":"top-left","title":null,"offset":3,"padding":0,"symbolSize":0.01,"symbolOpacity":0,"symbolStrokeWidth":0,"labelOffset":-9,"labelFont":"Liberation Sans","labelFontSize":9.5,"labelColor":"#000"}}
 }
}
]
}
